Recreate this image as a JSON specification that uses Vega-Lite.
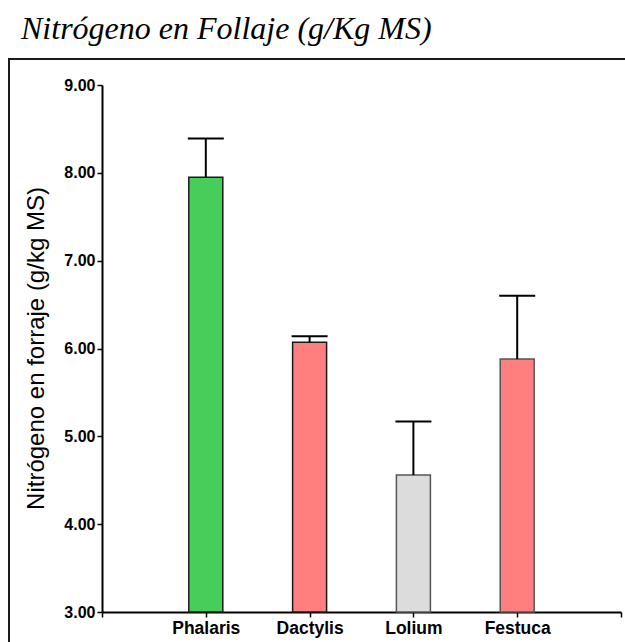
{
  "$schema": "https://vega.github.io/schema/vega-lite/v6.json",
  "autosize": "none",
  "width": 640,
  "height": 620,
  "padding": {"left": 9, "top": 59, "right": 0, "bottom": 0},
  "background": "white",
  "title": {
    "text": "Nitrógeno en Follaje (g/Kg MS)",
    "anchor": "start",
    "frame": "group",
    "font": "Liberation Serif",
    "fontStyle": "italic",
    "fontWeight": "normal",
    "fontSize": 32,
    "color": "#000000",
    "baseline": "alphabetic",
    "offset": -12,
    "dx": 12
  },
  "config": {
    "view": {"stroke": "#1a1a1a", "strokeWidth": 2}
  },
  "data": {
    "values": [
      {"species": "Phalaris", "mean": 7.95, "upper": 8.39},
      {"species": "Dactylis", "mean": 6.07, "upper": 6.14},
      {"species": "Lolium", "mean": 4.56, "upper": 5.17},
      {"species": "Festuca", "mean": 5.88, "upper": 6.60}
    ]
  },
  "encoding": {
    "x": {
      "field": "species",
      "type": "nominal",
      "sort": null,
      "scale": {
        "type": "point",
        "domain": ["L0", "Phalaris", "Dactylis", "Lolium", "Festuca", "R0"],
        "range": [93, 612],
        "padding": 0
      },
      "axis": {
        "title": null,
        "orient": "bottom",
        "offset": -67,
        "labelExpr": "indexof(['L0','R0'], datum.value) >= 0 ? '' : datum.value",
        "labelAngle": 0,
        "labelFont": "Liberation Sans",
        "labelFontWeight": "bold",
        "labelFontSize": 17.5,
        "labelColor": "#000000",
        "labelPadding": 2,
        "tickSize": 5,
        "tickWidth": 1.5,
        "tickColor": "#000000",
        "domainColor": "#000000",
        "domainWidth": 2,
        "grid": false
      }
    }
  },
  "layer": [
    {
      "mark": {"type": "bar", "width": 34, "strokeWidth": 1.5},
      "encoding": {
        "y": {
          "field": "mean",
          "type": "quantitative",
          "scale": {"domain": [3, 9], "range": [553, 26], "zero": false, "nice": false},
          "axis": {
            "title": "Nitrógeno en forraje (g/kg MS)",
            "orient": "left",
            "offset": -93,
            "values": [3, 4, 5, 6, 7, 8, 9],
            "format": ".2f",
            "labelFont": "Liberation Sans",
            "labelFontWeight": "bold",
            "labelFontSize": 16,
            "labelColor": "#000000",
            "labelPadding": 2,
            "tickSize": 5,
            "tickWidth": 1.5,
            "tickColor": "#000000",
            "domainColor": "#000000",
            "domainWidth": 2,
            "grid": false,
            "titleFont": "Liberation Sans",
            "titleFontWeight": "normal",
            "titleFontSize": 24,
            "titleColor": "#000000",
            "titleX": -66,
            "titleY": 289,
            "titleAngle": -90,
            "titleAlign": "center",
            "titleBaseline": "middle"
          }
        },
        "y2": {"datum": 3},
        "color": {
          "field": "species",
          "type": "nominal",
          "scale": {
            "domain": ["Phalaris", "Dactylis", "Lolium", "Festuca"],
            "range": ["#47cd5a", "#ff7f7f", "#dcdcdc", "#ff7f7f"]
          },
          "legend": null
        },
        "stroke": {
          "field": "species",
          "type": "nominal",
          "scale": {
            "domain": ["Phalaris", "Dactylis", "Lolium", "Festuca"],
            "range": ["#1a1a1a", "#1a1a1a", "#555555", "#555555"]
          },
          "legend": null
        }
      }
    },
    {
      "mark": {"type": "rule", "strokeWidth": 2, "color": "#000000"},
      "encoding": {
        "y": {"field": "mean", "type": "quantitative"},
        "y2": {"field": "upper"}
      }
    },
    {
      "mark": {"type": "tick", "size": 36, "thickness": 2, "color": "#000000", "opacity": 1},
      "encoding": {
        "y": {"field": "upper", "type": "quantitative"}
      }
    }
  ]
}
